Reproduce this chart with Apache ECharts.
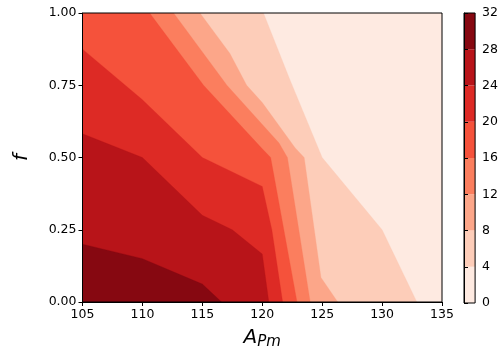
<!DOCTYPE html>
<html><head><meta charset="utf-8">
<script src="https://cdn.jsdelivr.net/npm/echarts@6/dist/echarts.min.js"></script>
<style>html,body{margin:0;padding:0;background:#fff}#c{width:501px;height:355px}</style>
</head><body><div id="c"></div>
<script>
// ---- data ----
const xTicks = [105, 110, 115, 120, 125, 130, 135];
const yTicks = [0, 0.25, 0.5, 0.75, 1];
const levels = [0, 4, 8, 12, 16, 20, 24, 28, 32];
// contour lines [A_Pm, f]; region to the left of each line exceeds the level
const c4  = [[120.1, 1], [122.3, 0.77], [125, 0.5], [130, 0.25], [132.9, 0]];
const c8  = [[114.8, 1], [117.3, 0.86], [118.7, 0.75], [120, 0.69], [122.75, 0.533], [123.5, 0.5], [124.9, 0.085], [126.3, 0]];
const c12 = [[112.6, 1], [117.05, 0.75], [121.4, 0.55], [122.1, 0.5], [124.0, 0]];
const c16 = [[110.6, 1], [115.1, 0.75], [120, 0.53], [120.7, 0.5], [122.9, 0]];
const c20 = [[105, 0.875], [110, 0.7], [115, 0.5], [120, 0.4], [120.8, 0.25], [121.7, 0]];
const c24 = [[105, 0.582], [110, 0.5], [115, 0.3], [117.5, 0.25], [120, 0.166], [120.55, 0]];
const c28 = [[105, 0.2], [110, 0.15], [115, 0.062], [116.6, 0]];
const contours = [null, c4, c8, c12, c16, c20, c24, c28];

const bandColors = ['#feeae1', '#fdcdb9', '#fca689', '#fb7e5e', '#f5523b', '#dd2a25', '#b81419', '#860811'];

const xMin = xTicks[0], xMax = xTicks[xTicks.length - 1];
const yMin = yTicks[0], yMax = yTicks[yTicks.length - 1];
const FONT = 'DejaVu Sans';

function renderContour(params, api) {
  const i = api.value(0);
  let pts;
  if (i === 0) {
    pts = [[xMin, yMin], [xMax, yMin], [xMax, yMax], [xMin, yMax]].map(p => api.coord(p));
  } else {
    const line = contours[i];
    pts = line.map(p => api.coord(p));
    pts.push(api.coord([xMin, yMin]));
    if (line[0][1] === yMax) pts.push(api.coord([xMin, yMax]));
  }
  return { type: 'polygon', shape: { points: pts }, style: { fill: bandColors[i], stroke: bandColors[i], lineWidth: 0.3 } };
}

function renderBar(params, api) {
  const i = api.value(0);
  const p0 = api.coord([0, levels[i]]);
  const p1 = api.coord([1, levels[i + 1]]);
  return { type: 'rect', shape: { x: p0[0], y: p1[1], width: p1[0] - p0[0], height: p0[1] - p1[1] }, style: { fill: bandColors[i] } };
}

const chart = echarts.init(document.getElementById('c'), null, { renderer: 'canvas' });
const tickStyle = { color: '#000', fontSize: 12.5, fontFamily: FONT };
chart.setOption({
  animation: false,
  backgroundColor: '#fff',
  grid: [
    { left: 82.5, top: 13, width: 359.5, height: 290, show: true, borderColor: '#000', borderWidth: 1, backgroundColor: 'transparent', z: 5 },
    { left: 464, top: 13, width: 14, height: 290, show: true, borderColor: '#000', borderWidth: 1, backgroundColor: 'transparent', z: 5 }
  ],
  xAxis: [
    {
      gridIndex: 0, type: 'value', min: xMin, max: xMax, interval: 5, z: 10,
      axisLine: { show: true, onZero: false, lineStyle: { color: '#000', width: 1 } },
      axisTick: { show: true, length: 4, lineStyle: { color: '#000' } },
      axisLabel: Object.assign({ margin: 6 }, tickStyle),
      splitLine: { show: false },
      name: '{a|A}{s|Pm}', nameLocation: 'middle', nameGap: 26,
      nameTextStyle: {
        color: '#000', fontFamily: FONT,
        rich: {
          a: { fontSize: 20, fontStyle: 'italic', fontFamily: FONT, color: '#000', lineHeight: 20 },
          s: { fontSize: 15, fontStyle: 'italic', fontFamily: FONT, color: '#000', lineHeight: 15, verticalAlign: 'bottom', padding: [0, 0, -2, 0] }
        }
      }
    },
    { gridIndex: 1, type: 'value', min: 0, max: 1, show: false }
  ],
  yAxis: [
    {
      gridIndex: 0, type: 'value', min: yMin, max: yMax, interval: 0.25, z: 10,
      axisLine: { show: true, onZero: false, lineStyle: { color: '#000', width: 1 } },
      axisTick: { show: true, length: 4, lineStyle: { color: '#000' } },
      axisLabel: Object.assign({ margin: 6, formatter: v => v.toFixed(2) }, tickStyle),
      splitLine: { show: false },
      name: 'f', nameLocation: 'middle', nameGap: 51, nameRotate: 90,
      nameTextStyle: { color: '#000', fontFamily: FONT, fontSize: 20, fontStyle: 'italic' }
    },
    {
      gridIndex: 1, type: 'value', min: levels[0], max: levels[levels.length - 1], interval: 4, position: 'right', z: 10,
      axisLine: { show: true, lineStyle: { color: '#000', width: 1 } },
      axisTick: { show: true, length: 4, lineStyle: { color: '#000' } },
      axisLabel: Object.assign({ margin: 7 }, tickStyle),
      splitLine: { show: false }
    }
  ],
  series: [
    {
      type: 'custom', xAxisIndex: 0, yAxisIndex: 0, clip: true,
      renderItem: renderContour,
      data: bandColors.map((c, i) => [i, 0])
    },
    {
      type: 'custom', xAxisIndex: 1, yAxisIndex: 1,
      renderItem: renderBar,
      data: levels.slice(0, -1).map((l, i) => [i, 0])
    }
  ]
});
</script></body></html>
